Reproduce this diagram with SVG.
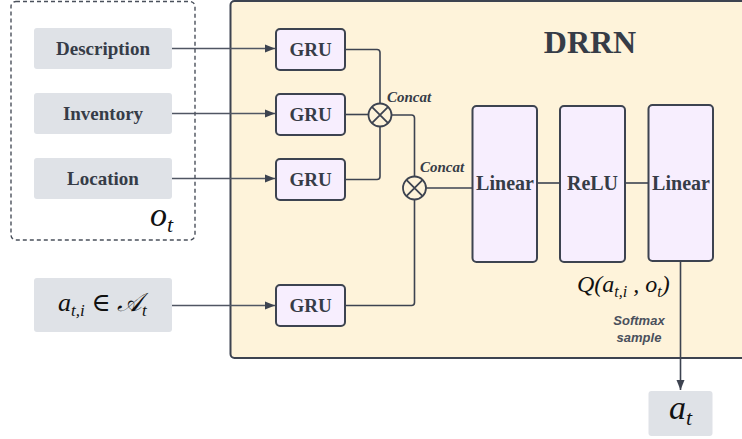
<svg xmlns="http://www.w3.org/2000/svg" width="742" height="439" viewBox="0 0 742 439">
<defs>
<marker id="ah" viewBox="0 0 10 10" refX="10" refY="5" markerWidth="10" markerHeight="10" markerUnits="userSpaceOnUse" orient="auto">
<path d="M0,1 L10,5 L0,9 Z" fill="#3d4350"/>
</marker>
<style>
.gray{fill:#dfe2e7;stroke:none}
.pur{fill:#f7eefe;stroke:#3d4350;stroke-width:2}
.lbl{font-family:"Liberation Serif",serif;font-weight:bold;fill:#363c47;text-anchor:middle}
.math{font-family:"Liberation Serif","DejaVu Serif",serif;font-style:italic;fill:#111}
.ital{font-family:"Liberation Serif",serif;font-weight:bold;font-style:italic;fill:#363c47;font-size:15px}
.conn{fill:none;stroke:#3d4350;stroke-width:1.6}
.arr{fill:none;stroke:#505663;stroke-width:1.4}
</style>
</defs>
<rect width="742" height="439" fill="#ffffff"/>

<g id="drrn">
<rect x="230.5" y="1" width="530" height="357" rx="4" fill="#fef3da" stroke="#3d4350" stroke-width="2"/>
<text class="lbl" x="590" y="53" font-size="32">DRRN</text>
</g>

<g id="obs">
<rect x="11" y="1.5" width="184" height="238.5" rx="5" fill="none" stroke="#4a505b" stroke-width="1.4" stroke-dasharray="4,3"/>
<text class="math" x="150" y="226" font-size="34">o<tspan font-size="22" dy="6">t</tspan></text>
</g>

<g id="description">
<rect class="gray" x="34" y="28" width="138" height="41" rx="3"/>
<text class="lbl" x="103" y="55" font-size="19">Description</text>
</g>
<g id="inventory">
<rect class="gray" x="34" y="93" width="138" height="41" rx="3"/>
<text class="lbl" x="103" y="120" font-size="19">Inventory</text>
</g>
<g id="location">
<rect class="gray" x="34" y="158" width="138" height="41" rx="3"/>
<text class="lbl" x="103" y="185" font-size="19">Location</text>
</g>
<g id="action">
<rect class="gray" x="34" y="278" width="138" height="54" rx="3"/>
<text class="math" x="58" y="311" font-size="26">a<tspan font-size="17" dy="5">t,i</tspan><tspan dy="-5" font-style="normal"> ∈ </tspan>𝒜<tspan font-size="17" dy="5">t</tspan></text>
</g>

<g id="gru1">
<rect class="pur" x="276" y="29" width="69" height="41" rx="4"/>
<text class="lbl" x="310.5" y="56" font-size="19">GRU</text>
</g>
<g id="gru2">
<rect class="pur" x="276" y="94" width="69" height="41" rx="4"/>
<text class="lbl" x="310.5" y="121" font-size="19">GRU</text>
</g>
<g id="gru3">
<rect class="pur" x="276" y="159" width="69" height="41" rx="4"/>
<text class="lbl" x="310.5" y="186" font-size="19">GRU</text>
</g>
<g id="gru4">
<rect class="pur" x="276" y="285" width="69" height="41" rx="4"/>
<text class="lbl" x="310.5" y="312" font-size="19">GRU</text>
</g>

<g id="concat1">
<circle cx="380" cy="115" r="11.5" fill="none" stroke="#3d4350" stroke-width="1.8"/>
<path d="M371.9,106.9 L388.1,123.1 M388.1,106.9 L371.9,123.1" stroke="#3d4350" stroke-width="1.8"/>
<text class="ital" x="387" y="102">Concat</text>
</g>
<g id="concat2">
<circle cx="414.5" cy="188" r="11.5" fill="none" stroke="#3d4350" stroke-width="1.8"/>
<path d="M406.4,179.9 L422.6,196.1 M422.6,179.9 L406.4,196.1" stroke="#3d4350" stroke-width="1.8"/>
<text class="ital" x="420" y="172">Concat</text>
</g>

<g id="linear1">
<rect class="pur" x="472.5" y="106" width="64.5" height="156" rx="4"/>
<text class="lbl" x="505" y="190" font-size="20">Linear</text>
</g>
<g id="relu">
<rect class="pur" x="560" y="106" width="65" height="156" rx="4"/>
<text class="lbl" x="592.5" y="190" font-size="20">ReLU</text>
</g>
<g id="linear2">
<rect class="pur" x="648.5" y="105" width="64.5" height="156" rx="4"/>
<text class="lbl" x="681" y="190" font-size="20">Linear</text>
</g>

<g id="qlabel">
<text class="math" x="577" y="292" font-size="24">Q(a<tspan font-size="16" dy="5">t,i</tspan><tspan dy="-5"> , o</tspan><tspan font-size="16" dy="5">t</tspan><tspan dy="-5">)</tspan></text>
</g>
<g id="softmax">
<text x="639" y="325" font-family="Liberation Sans,sans-serif" font-weight="bold" font-style="italic" font-size="13" fill="#4a505c" text-anchor="middle">Softmax</text>
<text x="639" y="342" font-family="Liberation Sans,sans-serif" font-weight="bold" font-style="italic" font-size="13" fill="#4a505c" text-anchor="middle">sample</text>
</g>

<g id="at">
<rect class="gray" x="648.5" y="391" width="64" height="45" rx="3"/>
<text class="math" x="669" y="419" font-size="34">a<tspan font-size="22" dy="6">t</tspan></text>
</g>

<g id="connectors">
<line class="arr" x1="172" y1="48.5" x2="275" y2="48.5" marker-end="url(#ah)"/>
<line class="arr" x1="172" y1="113.5" x2="275" y2="113.5" marker-end="url(#ah)"/>
<line class="arr" x1="172" y1="178.5" x2="275" y2="178.5" marker-end="url(#ah)"/>
<line class="arr" x1="172" y1="305.5" x2="275" y2="305.5" marker-end="url(#ah)"/>
<path class="conn" d="M345,49.5 H377 Q380,49.5 380,52.5 V103.5"/>
<path class="conn" d="M345,179.5 H377 Q380,179.5 380,176.5 V126.5"/>
<path class="conn" d="M345,114.5 H368.5"/>
<path class="conn" d="M391.5,115 H411.5 Q414.5,115 414.5,118 V176.5"/>
<path class="conn" d="M345,305.5 H411.5 Q414.5,305.5 414.5,302.5 V199.5"/>
<path class="conn" d="M426,188 H472.5"/>
<path class="conn" d="M537,183 H560"/>
<path class="conn" d="M625,183 H648.5"/>
<line class="conn" x1="680.5" y1="261" x2="680.5" y2="390" marker-end="url(#ah)"/>
</g>
</svg>
